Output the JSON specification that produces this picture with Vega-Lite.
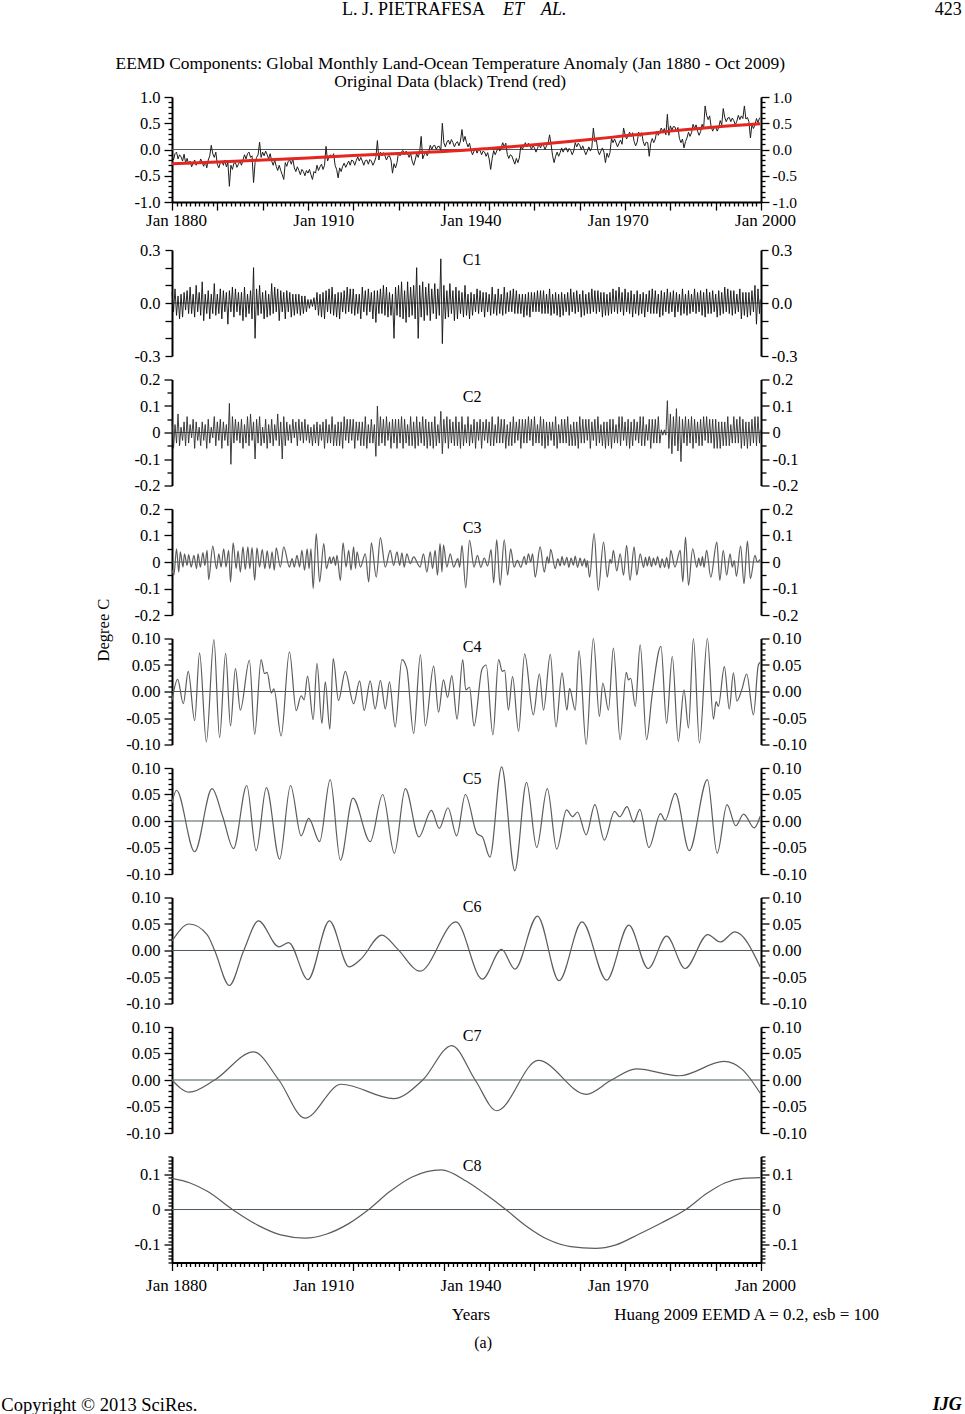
{
"$schema":"https://vega.github.io/schema/vega-lite/v6.json",
"autosize":"none",
"padding":{"left":172,"top":97,"right":793,"bottom":1317},
"background":"white",
"config":{"view":{"stroke":null},"axis":{"grid":false,"labelFont":"Liberation Serif","labelFontSize":16.5,"labelColor":"#000","domainColor":"#000","domainWidth":2,"tickColor":"#000","tickWidth":1.3,"labelOverlap":false},"text":{"font":"Liberation Serif","fontSize":16,"color":"#000"}},
"spacing":23.5,
"bounds":"flush",
"datasets":{
"hf":[
{"m":0,"o":-0.12,"a":0.06,"b":0.05},{"m":4,"o":-0.2,"a":-0.05,"b":-0.06},{"m":8,"o":-0.08,"a":0.08,"b":0.03},
{"m":12,"o":-0.05,"a":-0.07,"b":-0.04},{"m":16,"o":-0.18,"a":0.04,"b":0.07},{"m":20,"o":-0.1,"a":-0.09,"b":-0.05},
{"m":24,"o":-0.14,"a":0.05,"b":0.02},{"m":28,"o":-0.22,"a":-0.08,"b":-0.03},{"m":32,"o":-0.09,"a":0.06,"b":0.04},
{"m":36,"o":-0.25,"a":-0.04,"b":-0.05},{"m":40,"o":-0.17,"a":0.07,"b":0.06},{"m":44,"o":-0.28,"a":-0.06,"b":-0.04},
{"m":48,"o":-0.22,"a":0.09,"b":0.03},{"m":52,"o":-0.33,"a":-0.06,"b":-0.02},{"m":56,"o":-0.26,"a":0.05,"b":0.05},
{"m":60,"o":-0.2,"a":-0.08,"b":-0.06},{"m":64,"o":-0.3,"a":0.1,"b":0.04},{"m":68,"o":-0.24,"a":-0.05,"b":-0.03},
{"m":72,"o":-0.27,"a":0.06,"b":0.02},{"m":76,"o":-0.18,"a":-0.07,"b":-0.05},{"m":80,"o":-0.25,"a":0.12,"b":0.04},
{"m":84,"o":-0.32,"a":-0.1,"b":-0.03},{"m":88,"o":-0.22,"a":0.05,"b":0.03},{"m":92,"o":-0.35,"a":-0.06,"b":-0.06},
{"m":96,"o":-0.2,"a":0.07,"b":0.05},{"m":100,"o":-0.12,"a":-0.09,"b":-0.04},{"m":104,"o":0.08,"a":0.05,"b":0.02},
{"m":108,"o":-0.08,"a":-0.06,"b":-0.02},{"m":112,"o":-0.15,"a":0.11,"b":0.06},{"m":116,"o":-0.05,"a":-0.07,"b":-0.05},
{"m":120,"o":-0.28,"a":0.05,"b":0.04},{"m":124,"o":-0.35,"a":-0.06,"b":-0.03},{"m":128,"o":-0.25,"a":0.08,"b":0.05},
{"m":132,"o":-0.22,"a":-0.09,"b":-0.06},{"m":136,"o":-0.3,"a":0.07,"b":0.04},{"m":140,"o":-0.2,"a":-0.05,"b":-0.03},
{"m":144,"o":-0.33,"a":0.06,"b":0.03},{"m":148,"o":-0.25,"a":-0.12,"b":-0.05},{"m":152,"o":-0.7,"a":0.07,"b":0.11},
{"m":156,"o":-0.3,"a":-0.05,"b":-0.12},{"m":160,"o":-0.38,"a":0.09,"b":0.06},{"m":164,"o":-0.26,"a":-0.08,"b":-0.04},
{"m":168,"o":-0.25,"a":0.08,"b":0.05},{"m":172,"o":-0.34,"a":-0.05,"b":-0.03},{"m":176,"o":-0.28,"a":0.06,"b":0.04},
{"m":180,"o":-0.22,"a":-0.07,"b":-0.04},{"m":184,"o":-0.3,"a":0.06,"b":0.05},{"m":188,"o":-0.2,"a":-0.1,"b":-0.06},
{"m":192,"o":-0.1,"a":0.09,"b":0.03},{"m":196,"o":-0.18,"a":-0.08,"b":-0.04},{"m":200,"o":-0.08,"a":0.05,"b":0.06},
{"m":204,"o":-0.05,"a":-0.06,"b":-0.05},{"m":208,"o":-0.15,"a":0.07,"b":0.07},{"m":212,"o":-0.12,"a":-0.09,"b":-0.03},
{"m":216,"o":-0.63,"a":0.2,"b":0.04},{"m":220,"o":-0.25,"a":-0.2,"b":-0.1},{"m":224,"o":-0.15,"a":0.08,"b":0.05},
{"m":228,"o":-0.1,"a":-0.07,"b":-0.04},{"m":232,"o":0.14,"a":0.1,"b":0.06},{"m":236,"o":-0.15,"a":-0.06,"b":-0.05},
{"m":240,"o":-0.05,"a":0.06,"b":0.02},{"m":244,"o":-0.12,"a":-0.09,"b":-0.04},{"m":248,"o":-0.03,"a":0.07,"b":0.05},
{"m":252,"o":-0.1,"a":-0.08,"b":-0.06},{"m":256,"o":-0.18,"a":0.05,"b":0.03},{"m":260,"o":-0.08,"a":-0.07,"b":-0.04},
{"m":264,"o":-0.22,"a":0.11,"b":0.05},{"m":268,"o":-0.3,"a":-0.06,"b":-0.05},{"m":272,"o":-0.2,"a":0.09,"b":0.03},
{"m":276,"o":-0.32,"a":-0.05,"b":-0.03},{"m":280,"o":-0.4,"a":0.08,"b":0.07},{"m":284,"o":-0.3,"a":-0.1,"b":-0.05},
{"m":288,"o":-0.4,"a":0.07,"b":0.04},{"m":292,"o":-0.48,"a":-0.05,"b":-0.1},{"m":296,"o":-0.57,"a":0.06,"b":0.06},
{"m":300,"o":-0.25,"a":-0.09,"b":-0.05},{"m":304,"o":-0.32,"a":0.07,"b":0.04},{"m":308,"o":-0.22,"a":-0.05,"b":-0.03},
{"m":312,"o":-0.2,"a":0.06,"b":0.03},{"m":316,"o":-0.28,"a":-0.08,"b":-0.04},{"m":320,"o":-0.18,"a":0.05,"b":0.05},
{"m":324,"o":-0.35,"a":-0.07,"b":-0.02},{"m":328,"o":-0.42,"a":0.05,"b":0.04},{"m":332,"o":-0.33,"a":-0.06,"b":-0.05},
{"m":336,"o":-0.4,"a":0.05,"b":0.05},{"m":340,"o":-0.48,"a":-0.07,"b":-0.03},{"m":344,"o":-0.38,"a":0.04,"b":0.04},
{"m":348,"o":-0.42,"a":-0.06,"b":-0.04},{"m":352,"o":-0.5,"a":0.04,"b":0.05},{"m":356,"o":-0.4,"a":-0.05,"b":-0.03},
{"m":360,"o":-0.45,"a":0.02,"b":0.03},{"m":364,"o":-0.38,"a":-0.03,"b":-0.04},{"m":368,"o":-0.48,"a":0.02,"b":0.02},
{"m":372,"o":-0.57,"a":-0.02,"b":-0.05},{"m":376,"o":-0.42,"a":0.03,"b":0.03},{"m":380,"o":-0.45,"a":-0.04,"b":-0.04},
{"m":384,"o":-0.3,"a":0.06,"b":0.04},{"m":388,"o":-0.4,"a":-0.07,"b":-0.05},{"m":392,"o":-0.33,"a":0.05,"b":0.03},
{"m":396,"o":-0.28,"a":-0.08,"b":-0.03},{"m":400,"o":-0.38,"a":0.06,"b":0.04},{"m":404,"o":-0.3,"a":-0.09,"b":-0.06},
{"m":408,"o":0.06,"a":0.07,"b":0.05},{"m":412,"o":-0.22,"a":-0.05,"b":-0.04},{"m":416,"o":-0.14,"a":0.08,"b":0.03},
{"m":420,"o":-0.1,"a":-0.06,"b":-0.04},{"m":424,"o":-0.16,"a":0.09,"b":0.06},{"m":428,"o":-0.08,"a":-0.07,"b":-0.05},
{"m":432,"o":-0.3,"a":0.05,"b":0.03},{"m":436,"o":-0.38,"a":-0.08,"b":-0.05},{"m":440,"o":-0.54,"a":0.06,"b":0.04},
{"m":444,"o":-0.35,"a":-0.09,"b":-0.05},{"m":448,"o":-0.42,"a":0.06,"b":0.04},{"m":452,"o":-0.32,"a":-0.05,"b":-0.06},
{"m":456,"o":-0.26,"a":0.07,"b":0.06},{"m":460,"o":-0.34,"a":-0.06,"b":-0.03},{"m":464,"o":-0.28,"a":0.09,"b":0.05},
{"m":468,"o":-0.22,"a":-0.05,"b":-0.04},{"m":472,"o":-0.3,"a":0.08,"b":0.05},{"m":476,"o":-0.2,"a":-0.06,"b":-0.03},
{"m":480,"o":-0.22,"a":0.08,"b":0.05},{"m":484,"o":-0.3,"a":-0.07,"b":-0.06},{"m":488,"o":-0.21,"a":0.05,"b":0.04},
{"m":492,"o":-0.14,"a":-0.06,"b":-0.03},{"m":496,"o":-0.22,"a":0.05,"b":0.04},{"m":500,"o":-0.15,"a":-0.09,"b":-0.05},
{"m":504,"o":-0.22,"a":0.09,"b":0.04},{"m":508,"o":-0.3,"a":-0.05,"b":-0.05},{"m":512,"o":-0.21,"a":0.07,"b":0.06},
{"m":516,"o":-0.2,"a":-0.07,"b":-0.06},{"m":520,"o":-0.28,"a":0.08,"b":0.03},{"m":524,"o":-0.19,"a":-0.05,"b":-0.04},
{"m":528,"o":-0.22,"a":0.06,"b":0.05},{"m":532,"o":-0.3,"a":-0.09,"b":-0.04},{"m":536,"o":-0.24,"a":0.07,"b":0.03},
{"m":540,"o":-0.15,"a":-0.11,"b":-0.09},{"m":544,"o":0.17,"a":0.07,"b":0.1},{"m":548,"o":-0.2,"a":-0.06,"b":-0.05},
{"m":552,"o":-0.05,"a":0.08,"b":0.06},{"m":556,"o":-0.12,"a":-0.06,"b":-0.04},{"m":560,"o":-0.06,"a":0.1,"b":0.05},
{"m":564,"o":-0.12,"a":-0.07,"b":-0.05},{"m":568,"o":-0.2,"a":0.09,"b":0.06},{"m":572,"o":-0.13,"a":-0.08,"b":-0.03},
{"m":576,"o":-0.12,"a":0.06,"b":0.04},{"m":580,"o":-0.2,"a":-0.07,"b":-0.06},{"m":584,"o":-0.45,"a":0.05,"b":0.05},
{"m":588,"o":-0.27,"a":-0.2,"b":-0.04},{"m":592,"o":-0.35,"a":0.09,"b":0.05},{"m":596,"o":-0.25,"a":-0.07,"b":-0.06},
{"m":600,"o":-0.05,"a":0.1,"b":0.05},{"m":604,"o":-0.12,"a":-0.08,"b":-0.04},{"m":608,"o":-0.04,"a":0.12,"b":0.06},
{"m":612,"o":-0.02,"a":-0.09,"b":-0.06},{"m":616,"o":-0.1,"a":0.07,"b":0.05},{"m":620,"o":-0.03,"a":-0.11,"b":-0.04},
{"m":624,"o":-0.08,"a":0.12,"b":0.03},{"m":628,"o":-0.15,"a":-0.08,"b":-0.05},{"m":632,"o":-0.07,"a":0.09,"b":0.06},
{"m":636,"o":-0.22,"a":-0.07,"b":-0.05},{"m":640,"o":-0.3,"a":0.1,"b":0.04},{"m":644,"o":-0.2,"a":-0.09,"b":-0.06},
{"m":648,"o":-0.08,"a":0.2,"b":0.06},{"m":652,"o":-0.15,"a":-0.2,"b":-0.05},{"m":656,"o":-0.05,"a":0.1,"b":0.04},
{"m":660,"o":0.25,"a":-0.08,"b":-0.04},{"m":664,"o":-0.18,"a":0.12,"b":0.06},{"m":668,"o":-0.1,"a":-0.1,"b":-0.05},
{"m":672,"o":-0.05,"a":0.09,"b":0.05},{"m":676,"o":-0.12,"a":-0.07,"b":-0.06},{"m":680,"o":-0.04,"a":0.11,"b":0.04},
{"m":684,"o":0.08,"a":-0.1,"b":-0.05},{"m":688,"o":0.0,"a":0.08,"b":0.04},{"m":692,"o":0.07,"a":-0.06,"b":-0.06},
{"m":696,"o":0.08,"a":0.11,"b":0.06},{"m":700,"o":0.0,"a":-0.09,"b":-0.05},{"m":704,"o":0.06,"a":0.08,"b":0.03},
{"m":708,"o":0.06,"a":-0.07,"b":-0.04},{"m":712,"o":-0.02,"a":0.25,"b":0.08},{"m":716,"o":0.5,"a":-0.23,"b":-0.08},
{"m":720,"o":0.13,"a":0.1,"b":0.05},{"m":724,"o":0.05,"a":-0.09,"b":-0.04},{"m":728,"o":0.14,"a":0.07,"b":0.06},
{"m":732,"o":0.18,"a":-0.08,"b":-0.06},{"m":736,"o":0.1,"a":0.11,"b":0.05},{"m":740,"o":0.19,"a":-0.06,"b":-0.04},
{"m":744,"o":0.13,"a":0.07,"b":0.04},{"m":748,"o":0.05,"a":-0.1,"b":-0.05},{"m":752,"o":0.12,"a":0.09,"b":0.06},
{"m":756,"o":0.15,"a":-0.09,"b":-0.05},{"m":760,"o":0.07,"a":0.07,"b":0.04},{"m":764,"o":0.16,"a":-0.06,"b":-0.06},
{"m":768,"o":0.38,"a":0.06,"b":0.06},{"m":772,"o":0.15,"a":-0.08,"b":-0.05},{"m":776,"o":0.25,"a":0.1,"b":0.03},
{"m":780,"o":0.13,"a":-0.07,"b":-0.04},{"m":784,"o":0.05,"a":0.05,"b":0.06},{"m":788,"o":0.12,"a":-0.09,"b":-0.05},
{"m":792,"o":-0.02,"a":0.06,"b":0.03},{"m":796,"o":-0.1,"a":-0.07,"b":-0.04},{"m":800,"o":-0.03,"a":0.05,"b":0.05},
{"m":804,"o":0.01,"a":-0.05,"b":-0.06},{"m":808,"o":-0.07,"a":0.08,"b":0.04},{"m":812,"o":0.0,"a":-0.06,"b":-0.03},
{"m":816,"o":-0.02,"a":0.07,"b":0.05},{"m":820,"o":-0.1,"a":-0.05,"b":-0.06},{"m":824,"o":-0.03,"a":0.06,"b":0.04},
{"m":828,"o":-0.05,"a":-0.08,"b":-0.03},{"m":832,"o":-0.13,"a":0.06,"b":0.05},{"m":836,"o":-0.06,"a":-0.05,"b":-0.04},
{"m":840,"o":-0.18,"a":0.05,"b":0.04},{"m":844,"o":-0.38,"a":-0.07,"b":-0.05},{"m":848,"o":-0.17,"a":0.09,"b":0.06},
{"m":852,"o":-0.02,"a":-0.06,"b":-0.05},{"m":856,"o":-0.1,"a":0.05,"b":0.03},{"m":860,"o":-0.03,"a":-0.07,"b":-0.04},
{"m":864,"o":0.05,"a":0.08,"b":0.06},{"m":868,"o":-0.03,"a":-0.06,"b":-0.04},{"m":872,"o":0.04,"a":0.05,"b":0.05},
{"m":876,"o":0.13,"a":-0.07,"b":-0.04},{"m":880,"o":0.05,"a":0.09,"b":0.05},{"m":884,"o":0.12,"a":-0.06,"b":-0.06},
{"m":888,"o":-0.09,"a":0.06,"b":0.03},{"m":892,"o":-0.17,"a":-0.05,"b":-0.05},{"m":896,"o":-0.1,"a":0.07,"b":0.04},
{"m":900,"o":-0.12,"a":-0.05,"b":-0.05},{"m":904,"o":-0.2,"a":0.08,"b":0.06},{"m":908,"o":-0.28,"a":-0.06,"b":-0.04},
{"m":912,"o":-0.17,"a":0.07,"b":0.04},{"m":916,"o":-0.25,"a":-0.06,"b":-0.03},{"m":920,"o":-0.16,"a":0.05,"b":0.05},
{"m":924,"o":0.08,"a":-0.06,"b":-0.06},{"m":928,"o":0.0,"a":0.05,"b":0.05},{"m":932,"o":0.07,"a":-0.08,"b":-0.04},
{"m":936,"o":0.13,"a":0.05,"b":0.05},{"m":940,"o":0.05,"a":-0.07,"b":-0.04},{"m":944,"o":0.12,"a":0.06,"b":0.06},
{"m":948,"o":0.08,"a":-0.08,"b":-0.03},{"m":952,"o":0.0,"a":0.06,"b":0.05},{"m":956,"o":0.07,"a":-0.05,"b":-0.05},
{"m":960,"o":0.03,"a":0.06,"b":0.06},{"m":964,"o":-0.05,"a":-0.05,"b":-0.04},{"m":968,"o":0.02,"a":0.07,"b":0.03},
{"m":972,"o":0.11,"a":-0.05,"b":-0.04},{"m":976,"o":0.03,"a":0.07,"b":0.06},{"m":980,"o":0.1,"a":-0.06,"b":-0.05},
{"m":984,"o":0.08,"a":0.07,"b":0.05},{"m":988,"o":0.0,"a":-0.06,"b":-0.06},{"m":992,"o":0.07,"a":0.05,"b":0.04},
{"m":996,"o":0.11,"a":-0.06,"b":-0.05},{"m":1000,"o":0.28,"a":0.08,"b":0.04},{"m":1004,"o":0.1,"a":-0.07,"b":-0.03},
{"m":1008,"o":-0.12,"a":0.05,"b":0.04},{"m":1012,"o":-0.25,"a":-0.06,"b":-0.05},{"m":1016,"o":-0.13,"a":0.06,"b":0.06},
{"m":1020,"o":-0.05,"a":-0.07,"b":-0.06},{"m":1024,"o":-0.13,"a":0.05,"b":0.03},{"m":1028,"o":-0.06,"a":-0.08,"b":-0.04},
{"m":1032,"o":0.03,"a":0.06,"b":0.05},{"m":1036,"o":-0.05,"a":-0.07,"b":-0.04},{"m":1040,"o":0.02,"a":0.05,"b":0.05},
{"m":1044,"o":0.03,"a":-0.05,"b":-0.04},{"m":1048,"o":-0.05,"a":0.06,"b":0.06},{"m":1052,"o":0.02,"a":-0.07,"b":-0.05},
{"m":1056,"o":-0.02,"a":0.08,"b":0.03},{"m":1060,"o":-0.1,"a":-0.05,"b":-0.05},{"m":1064,"o":-0.03,"a":0.06,"b":0.04},
{"m":1068,"o":0.13,"a":-0.06,"b":-0.05},{"m":1072,"o":0.05,"a":0.07,"b":0.04},{"m":1076,"o":0.12,"a":-0.05,"b":-0.06},
{"m":1080,"o":0.08,"a":0.05,"b":0.06},{"m":1084,"o":0.0,"a":-0.08,"b":-0.04},{"m":1088,"o":0.07,"a":0.07,"b":0.05},
{"m":1092,"o":-0.02,"a":-0.07,"b":-0.04},{"m":1096,"o":-0.1,"a":0.05,"b":0.05},{"m":1100,"o":-0.03,"a":-0.06,"b":-0.03},
{"m":1104,"o":0.05,"a":0.06,"b":0.05},{"m":1108,"o":-0.03,"a":-0.06,"b":-0.06},{"m":1112,"o":0.04,"a":0.08,"b":0.04},
{"m":1116,"o":0.41,"a":-0.05,"b":-0.03},{"m":1120,"o":0.15,"a":0.07,"b":0.05},{"m":1124,"o":0.18,"a":-0.06,"b":-0.05},
{"m":1128,"o":-0.02,"a":0.07,"b":0.06},{"m":1132,"o":-0.1,"a":-0.05,"b":-0.04},{"m":1136,"o":-0.03,"a":0.06,"b":0.03},
{"m":1140,"o":0.03,"a":-0.08,"b":-0.05},{"m":1144,"o":-0.05,"a":0.06,"b":0.04},{"m":1148,"o":-0.25,"a":-0.07,"b":-0.06},
{"m":1152,"o":-0.07,"a":0.05,"b":0.04},{"m":1156,"o":-0.15,"a":-0.07,"b":-0.05},{"m":1160,"o":-0.06,"a":0.06,"b":0.05},
{"m":1164,"o":0.21,"a":-0.06,"b":-0.06},{"m":1168,"o":0.13,"a":0.08,"b":0.05},{"m":1172,"o":0.2,"a":-0.05,"b":-0.04},
{"m":1176,"o":0.13,"a":0.07,"b":0.03},{"m":1180,"o":0.05,"a":-0.06,"b":-0.04},{"m":1184,"o":0.12,"a":0.09,"b":0.06},
{"m":1188,"o":0.18,"a":-0.05,"b":-0.05},{"m":1192,"o":0.1,"a":0.06,"b":0.06},{"m":1196,"o":0.41,"a":-0.07,"b":-0.03},
{"m":1200,"o":0.28,"a":0.08,"b":0.04},{"m":1204,"o":0.2,"a":-0.05,"b":-0.05},{"m":1208,"o":0.27,"a":0.06,"b":0.05},
{"m":1212,"o":0.33,"a":-0.06,"b":-0.06},{"m":1216,"o":0.25,"a":0.07,"b":0.04},{"m":1220,"o":0.32,"a":-0.08,"b":-0.05},
{"m":1224,"o":0.15,"a":0.05,"b":0.05},{"m":1228,"o":0.07,"a":-0.06,"b":-0.03},{"m":1232,"o":0.14,"a":0.07,"b":0.04},
{"m":1236,"o":0.33,"a":-0.07,"b":-0.04},{"m":1240,"o":0.25,"a":0.05,"b":0.06},{"m":1244,"o":0.32,"a":-0.06,"b":-0.05},
{"m":1248,"o":0.15,"a":0.06,"b":0.06},{"m":1252,"o":0.07,"a":-0.08,"b":-0.05},{"m":1256,"o":0.14,"a":0.05,"b":0.03},
{"m":1260,"o":0.13,"a":-0.05,"b":-0.03},{"m":1264,"o":-0.13,"a":0.07,"b":0.05},{"m":1268,"o":0.12,"a":-0.06,"b":-0.06},
{"m":1272,"o":0.21,"a":0.08,"b":0.05},{"m":1276,"o":0.13,"a":-0.06,"b":-0.04},{"m":1280,"o":0.2,"a":0.07,"b":0.05},
{"m":1284,"o":0.35,"a":-0.06,"b":-0.04},{"m":1288,"o":0.27,"a":0.05,"b":0.06},{"m":1292,"o":0.34,"a":-0.08,"b":-0.04},
{"m":1296,"o":0.41,"a":0.07,"b":0.01},{"m":1300,"o":0.33,"a":-0.07,"b":-0.01},{"m":1304,"o":0.4,"a":0.06,"b":0.01},
{"m":1308,"o":0.28,"a":-0.05,"b":-0.01},{"m":1312,"o":0.67,"a":0.08,"b":0.12},{"m":1316,"o":0.27,"a":-0.06,"b":-0.06},
{"m":1320,"o":0.45,"a":0.06,"b":0.07},{"m":1324,"o":0.37,"a":-0.05,"b":-0.08},{"m":1328,"o":0.44,"a":0.07,"b":0.06},
{"m":1332,"o":0.43,"a":-0.08,"b":-0.05},{"m":1336,"o":0.35,"a":0.06,"b":0.09},{"m":1340,"o":0.42,"a":-0.05,"b":-0.07},
{"m":1344,"o":0.21,"a":0.05,"b":0.06},{"m":1348,"o":0.13,"a":-0.07,"b":-0.11},{"m":1352,"o":0.2,"a":0.08,"b":0.05},
{"m":1356,"o":0.03,"a":-0.06,"b":-0.04},{"m":1360,"o":0.15,"a":0.05,"b":0.06},{"m":1364,"o":0.22,"a":-0.07,"b":-0.05},
{"m":1368,"o":0.33,"a":0.07,"b":0.05},{"m":1372,"o":0.25,"a":-0.06,"b":-0.04},{"m":1376,"o":0.32,"a":0.05,"b":0.06},
{"m":1380,"o":0.48,"a":-0.05,"b":-0.06},{"m":1384,"o":0.4,"a":0.08,"b":0.05},{"m":1388,"o":0.47,"a":-0.06,"b":-0.04},
{"m":1392,"o":0.35,"a":0.06,"b":0.04},{"m":1396,"o":0.27,"a":-0.05,"b":-0.05},{"m":1400,"o":0.34,"a":0.07,"b":0.05},
{"m":1404,"o":0.48,"a":-0.07,"b":-0.05},{"m":1408,"o":0.4,"a":0.06,"b":0.06},{"m":1412,"o":0.83,"a":-0.08,"b":-0.03},
{"m":1416,"o":0.65,"a":0.08,"b":0.06},{"m":1420,"o":0.57,"a":-0.06,"b":-0.04},{"m":1424,"o":0.64,"a":0.06,"b":0.05},
{"m":1428,"o":0.43,"a":-0.06,"b":-0.04},{"m":1432,"o":0.35,"a":0.07,"b":0.05},{"m":1436,"o":0.42,"a":-0.05,"b":-0.06},
{"m":1440,"o":0.43,"a":0.05,"b":0.05},{"m":1444,"o":0.35,"a":-0.08,"b":-0.06},{"m":1448,"o":0.42,"a":0.07,"b":0.04},
{"m":1452,"o":0.55,"a":-0.07,"b":-0.06},{"m":1456,"o":0.47,"a":0.06,"b":0.04},{"m":1460,"o":0.78,"a":-0.06,"b":-0.05},
{"m":1464,"o":0.61,"a":0.09,"b":0.04},{"m":1468,"o":0.53,"a":-0.05,"b":-0.05},{"m":1472,"o":0.6,"a":0.08,"b":0.06},
{"m":1476,"o":0.61,"a":-0.06,"b":-0.05},{"m":1480,"o":0.53,"a":0.07,"b":0.03},{"m":1484,"o":0.6,"a":-0.07,"b":-0.04},
{"m":1488,"o":0.55,"a":0.07,"b":0.06},{"m":1492,"o":0.47,"a":-0.06,"b":-0.04},{"m":1496,"o":0.54,"a":0.05,"b":0.05},
{"m":1500,"o":0.65,"a":-0.05,"b":-0.04},{"m":1504,"o":0.57,"a":0.08,"b":0.06},{"m":1508,"o":0.64,"a":-0.09,"b":-0.06},
{"m":1512,"o":0.59,"a":0.06,"b":0.05},{"m":1516,"o":0.83,"a":-0.07,"b":-0.05},{"m":1520,"o":0.58,"a":0.06,"b":0.04},
{"m":1524,"o":0.61,"a":-0.08,"b":-0.06},{"m":1528,"o":0.53,"a":0.06,"b":0.04},{"m":1532,"o":0.22,"a":-0.07,"b":-0.05},
{"m":1536,"o":0.48,"a":0.07,"b":0.05},{"m":1540,"o":0.4,"a":-0.05,"b":-0.04},{"m":1544,"o":0.47,"a":0.1,"b":0.06},
{"m":1548,"o":0.59,"a":-0.12,"b":-0.05},{"m":1552,"o":0.51,"a":0.08,"b":0.06},{"m":1556,"o":0.6,"a":-0.06,"b":-0.04},
{"m":1558,"o":0.6,"a":0.02,"b":0.01}
],
"tr":[{"m":0,"v":-0.27},{"m":120,"v":-0.24},{"m":240,"v":-0.2},{"m":360,"v":-0.16},{"m":480,"v":-0.115},{"m":600,"v":-0.075},{"m":720,"v":-0.04},{"m":840,"v":0.02},{"m":960,"v":0.09},{"m":1080,"v":0.17},{"m":1200,"v":0.26},{"m":1320,"v":0.35},{"m":1440,"v":0.43},{"m":1558,"v":0.49}],
"c3":[{"m":0,"v":-0.03},{"m":5,"v":-0.05},{"m":12,"v":0.05},{"m":18,"v":-0.038},{"m":22,"v":0.038},{"m":29,"v":-0.019},{"m":33,"v":0.031},{"m":40,"v":-0.013},{"m":44,"v":0.028},{"m":51,"v":-0.019},{"m":58,"v":0.025},{"m":65,"v":-0.025},{"m":69,"v":0.031},{"m":75,"v":-0.019},{"m":82,"v":0.035},{"m":87,"v":-0.013},{"m":93,"v":0.044},{"m":97,"v":-0.067},{"m":108,"v":0.06},{"m":118,"v":-0.025},{"m":124,"v":0.031},{"m":130,"v":-0.019},{"m":137,"v":0.05},{"m":143,"v":-0.019},{"m":150,"v":0.044},{"m":155,"v":-0.075},{"m":162,"v":0.072},{"m":170,"v":-0.025},{"m":175,"v":0.042},{"m":181,"v":-0.038},{"m":188,"v":0.057},{"m":194,"v":-0.029},{"m":201,"v":0.057},{"m":206,"v":-0.025},{"m":212,"v":0.054},{"m":219,"v":-0.069},{"m":225,"v":0.053},{"m":232,"v":-0.019},{"m":239,"v":0.047},{"m":246,"v":-0.025},{"m":252,"v":0.042},{"m":259,"v":-0.025},{"m":265,"v":0.038},{"m":271,"v":-0.031},{"m":276,"v":0.053},{"m":287,"v":-0.019},{"m":296,"v":0.057},{"m":311,"v":-0.019},{"m":318,"v":0.013},{"m":324,"v":-0.019},{"m":331,"v":0.025},{"m":338,"v":-0.019},{"m":344,"v":0.044},{"m":351,"v":-0.031},{"m":358,"v":0.05},{"m":363,"v":-0.025},{"m":368,"v":0.05},{"m":374,"v":-0.1},{"m":382,"v":0.107},{"m":391,"v":-0.075},{"m":402,"v":0.069},{"m":409,"v":-0.025},{"m":418,"v":0.019},{"m":421,"v":-0.006},{"m":428,"v":0.019},{"m":433,"v":-0.013},{"m":437,"v":0.025},{"m":446,"v":-0.069},{"m":453,"v":0.072},{"m":461,"v":-0.019},{"m":468,"v":0.044},{"m":474,"v":-0.031},{"m":481,"v":0.057},{"m":486,"v":-0.025},{"m":490,"v":0.038},{"m":499,"v":-0.019},{"m":512,"v":0.031},{"m":521,"v":-0.075},{"m":528,"v":0.072},{"m":541,"v":-0.057},{"m":552,"v":0.092},{"m":565,"v":-0.019},{"m":578,"v":0.044},{"m":587,"v":-0.013},{"m":596,"v":0.038},{"m":603,"v":-0.013},{"m":609,"v":0.035},{"m":615,"v":-0.019},{"m":622,"v":0.031},{"m":631,"v":-0.006},{"m":640,"v":0.019},{"m":657,"v":-0.019},{"m":666,"v":0.031},{"m":675,"v":-0.038},{"m":684,"v":0.038},{"m":690,"v":-0.025},{"m":697,"v":0.044},{"m":703,"v":-0.05},{"m":710,"v":0.069},{"m":715,"v":-0.038},{"m":719,"v":0.065},{"m":728,"v":-0.019},{"m":737,"v":0.031},{"m":746,"v":-0.019},{"m":757,"v":0.013},{"m":762,"v":-0.02},{"m":768,"v":0.063},{"m":778,"v":-0.097},{"m":788,"v":0.082},{"m":800,"v":-0.019},{"m":809,"v":0.025},{"m":818,"v":-0.02},{"m":827,"v":0.015},{"m":836,"v":-0.015},{"m":845,"v":0.047},{"m":852,"v":-0.079},{"m":860,"v":0.084},{"m":869,"v":-0.088},{"m":880,"v":0.084},{"m":889,"v":-0.05},{"m":897,"v":0.05},{"m":906,"v":-0.019},{"m":915,"v":0.006},{"m":924,"v":-0.02},{"m":933,"v":0.02},{"m":938,"v":-0.01},{"m":944,"v":0.031},{"m":950,"v":0.0},{"m":955,"v":0.031},{"m":962,"v":-0.057},{"m":975,"v":0.057},{"m":986,"v":-0.038},{"m":994,"v":0.02},{"m":998,"v":-0.005},{"m":1003,"v":0.048},{"m":1015,"v":-0.025},{"m":1022,"v":0.012},{"m":1028,"v":-0.015},{"m":1033,"v":0.02},{"m":1039,"v":-0.012},{"m":1046,"v":0.018},{"m":1051,"v":-0.02},{"m":1057,"v":0.015},{"m":1063,"v":-0.012},{"m":1068,"v":0.022},{"m":1074,"v":-0.02},{"m":1081,"v":0.015},{"m":1086,"v":-0.015},{"m":1093,"v":0.012},{"m":1097,"v":-0.02},{"m":1100,"v":0.005},{"m":1106,"v":-0.057},{"m":1118,"v":0.107},{"m":1129,"v":-0.107},{"m":1143,"v":0.075},{"m":1153,"v":-0.057},{"m":1160,"v":0.01},{"m":1164,"v":-0.005},{"m":1169,"v":0.044},{"m":1178,"v":-0.034},{"m":1187,"v":0.031},{"m":1196,"v":-0.05},{"m":1204,"v":0.063},{"m":1213,"v":-0.069},{"m":1224,"v":0.057},{"m":1231,"v":-0.05},{"m":1240,"v":0.031},{"m":1249,"v":-0.02},{"m":1254,"v":0.018},{"m":1259,"v":-0.015},{"m":1264,"v":0.02},{"m":1270,"v":-0.018},{"m":1275,"v":0.015},{"m":1281,"v":-0.012},{"m":1286,"v":0.02},{"m":1293,"v":-0.022},{"m":1298,"v":0.012},{"m":1305,"v":-0.02},{"m":1310,"v":0.018},{"m":1316,"v":-0.025},{"m":1321,"v":0.044},{"m":1332,"v":-0.019},{"m":1346,"v":0.044},{"m":1353,"v":-0.075},{"m":1360,"v":0.094},{"m":1368,"v":-0.088},{"m":1379,"v":0.05},{"m":1390,"v":-0.02},{"m":1395,"v":0.015},{"m":1400,"v":-0.015},{"m":1405,"v":0.02},{"m":1409,"v":-0.02},{"m":1416,"v":0.044},{"m":1427,"v":-0.057},{"m":1443,"v":0.075},{"m":1451,"v":-0.069},{"m":1460,"v":0.044},{"m":1469,"v":-0.05},{"m":1478,"v":0.031},{"m":1484,"v":-0.019},{"m":1489,"v":0.005},{"m":1495,"v":-0.054},{"m":1506,"v":0.06},{"m":1515,"v":-0.082},{"m":1524,"v":0.079},{"m":1532,"v":-0.063},{"m":1544,"v":0.025},{"m":1550,"v":0.0},{"m":1558,"v":0.01}],
"c4":[{"m":0,"v":-0.017},{"m":15,"v":0.023},{"m":30,"v":-0.023},{"m":43,"v":0.038},{"m":60,"v":-0.055},{"m":73,"v":0.073},{"m":91,"v":-0.095},{"m":111,"v":0.098},{"m":126,"v":-0.087},{"m":142,"v":0.072},{"m":155,"v":-0.065},{"m":168,"v":0.043},{"m":181,"v":-0.035},{"m":205,"v":0.059},{"m":219,"v":-0.081},{"m":236,"v":0.06},{"m":245,"v":0.034},{"m":252,"v":0.036},{"m":263,"v":-0.003},{"m":270,"v":0.005},{"m":289,"v":-0.084},{"m":311,"v":0.075},{"m":329,"v":-0.036},{"m":342,"v":-0.008},{"m":350,"v":-0.016},{"m":359,"v":0.029},{"m":374,"v":-0.053},{"m":384,"v":0.053},{"m":397,"v":-0.06},{"m":406,"v":0.018},{"m":418,"v":-0.071},{"m":427,"v":0.062},{"m":441,"v":-0.017},{"m":459,"v":0.038},{"m":481,"v":-0.023},{"m":497,"v":0.02},{"m":509,"v":-0.036},{"m":525,"v":0.02},{"m":538,"v":-0.033},{"m":552,"v":0.021},{"m":565,"v":-0.033},{"m":576,"v":0.018},{"m":591,"v":-0.067},{"m":609,"v":0.06},{"m":622,"v":0.043},{"m":640,"v":-0.079},{"m":658,"v":0.069},{"m":671,"v":-0.065},{"m":693,"v":0.048},{"m":706,"v":-0.039},{"m":719,"v":0.022},{"m":730,"v":-0.011},{"m":741,"v":0.03},{"m":755,"v":-0.052},{"m":770,"v":0.06},{"m":778,"v":0.003},{"m":788,"v":0.008},{"m":800,"v":-0.065},{"m":821,"v":0.042},{"m":832,"v":0.05},{"m":850,"v":-0.082},{"m":865,"v":0.06},{"m":875,"v":0.038},{"m":881,"v":0.04},{"m":891,"v":-0.035},{"m":902,"v":0.028},{"m":918,"v":-0.075},{"m":934,"v":0.071},{"m":957,"v":-0.044},{"m":973,"v":0.033},{"m":984,"v":-0.035},{"m":1002,"v":0.07},{"m":1017,"v":-0.067},{"m":1033,"v":0.035},{"m":1046,"v":-0.035},{"m":1053,"v":0.006},{"m":1068,"v":-0.035},{"m":1078,"v":0.077},{"m":1097,"v":-0.1},{"m":1116,"v":0.1},{"m":1132,"v":-0.047},{"m":1141,"v":0.016},{"m":1156,"v":-0.035},{"m":1169,"v":0.082},{"m":1187,"v":-0.091},{"m":1203,"v":0.036},{"m":1209,"v":0.022},{"m":1215,"v":0.025},{"m":1227,"v":-0.028},{"m":1240,"v":0.088},{"m":1257,"v":-0.091},{"m":1271,"v":-0.01},{"m":1295,"v":0.085},{"m":1310,"v":-0.06},{"m":1325,"v":0.066},{"m":1341,"v":-0.094},{"m":1356,"v":0.003},{"m":1368,"v":-0.069},{"m":1381,"v":0.1},{"m":1397,"v":-0.097},{"m":1418,"v":0.1},{"m":1434,"v":-0.052},{"m":1441,"v":-0.019},{"m":1447,"v":-0.028},{"m":1463,"v":0.047},{"m":1476,"v":-0.033},{"m":1487,"v":0.035},{"m":1496,"v":-0.018},{"m":1509,"v":0.003},{"m":1522,"v":0.033},{"m":1540,"v":-0.044},{"m":1553,"v":0.05},{"m":1558,"v":0.055}],
"c5":[{"m":0,"v":0.034},{"m":12,"v":0.058},{"m":60,"v":-0.058},{"m":106,"v":0.061},{"m":134,"v":0.009},{"m":163,"v":-0.052},{"m":198,"v":0.067},{"m":223,"v":-0.056},{"m":250,"v":0.063},{"m":285,"v":-0.072},{"m":314,"v":0.067},{"m":342,"v":-0.028},{"m":362,"v":0.005},{"m":391,"v":-0.039},{"m":419,"v":0.078},{"m":446,"v":-0.074},{"m":479,"v":0.043},{"m":525,"v":-0.039},{"m":558,"v":0.05},{"m":589,"v":-0.061},{"m":618,"v":0.061},{"m":654,"v":-0.03},{"m":687,"v":0.02},{"m":708,"v":-0.014},{"m":731,"v":0.025},{"m":754,"v":-0.028},{"m":777,"v":0.05},{"m":808,"v":-0.024},{"m":822,"v":-0.03},{"m":842,"v":-0.068},{"m":873,"v":0.102},{"m":908,"v":-0.094},{"m":939,"v":0.073},{"m":966,"v":-0.05},{"m":994,"v":0.061},{"m":1019,"v":-0.053},{"m":1045,"v":0.021},{"m":1061,"v":0.008},{"m":1074,"v":0.017},{"m":1097,"v":-0.026},{"m":1120,"v":0.031},{"m":1145,"v":-0.036},{"m":1172,"v":0.018},{"m":1186,"v":0.008},{"m":1205,"v":0.027},{"m":1223,"v":-0.002},{"m":1239,"v":0.022},{"m":1263,"v":-0.05},{"m":1294,"v":0.014},{"m":1306,"v":0.001},{"m":1333,"v":0.052},{"m":1370,"v":-0.056},{"m":1418,"v":0.078},{"m":1444,"v":-0.061},{"m":1470,"v":0.031},{"m":1493,"v":-0.009},{"m":1514,"v":0.013},{"m":1542,"v":-0.013},{"m":1558,"v":0.009}],
"c6":[{"m":0,"v":0.018},{"m":46,"v":0.05},{"m":93,"v":0.03},{"m":113,"v":0.0},{"m":152,"v":-0.066},{"m":190,"v":0.0},{"m":229,"v":0.056},{"m":283,"v":0.007},{"m":309,"v":0.015},{"m":360,"v":-0.055},{"m":417,"v":0.056},{"m":469,"v":-0.031},{"m":499,"v":-0.017},{"m":556,"v":0.029},{"m":597,"v":0.003},{"m":657,"v":-0.039},{"m":752,"v":0.054},{"m":822,"v":-0.054},{"m":873,"v":0.002},{"m":908,"v":-0.035},{"m":968,"v":0.065},{"m":1025,"v":-0.057},{"m":1086,"v":0.054},{"m":1151,"v":-0.056},{"m":1210,"v":0.048},{"m":1261,"v":-0.034},{"m":1310,"v":0.027},{"m":1359,"v":-0.034},{"m":1419,"v":0.03},{"m":1452,"v":0.016},{"m":1491,"v":0.035},{"m":1558,"v":-0.031}],
"c7":[{"m":0,"v":0.0},{"m":46,"v":-0.023},{"m":113,"v":0.0},{"m":216,"v":0.053},{"m":283,"v":0.0},{"m":352,"v":-0.072},{"m":448,"v":-0.008},{"m":587,"v":-0.035},{"m":664,"v":0.0},{"m":741,"v":0.065},{"m":803,"v":0.0},{"m":860,"v":-0.058},{"m":970,"v":0.037},{"m":1097,"v":-0.027},{"m":1164,"v":0.0},{"m":1230,"v":0.021},{"m":1344,"v":0.008},{"m":1462,"v":0.035},{"m":1510,"v":0.02},{"m":1558,"v":-0.025}],
"c8":[{"m":0,"v":0.088},{"m":48,"v":0.075},{"m":96,"v":0.05},{"m":160,"v":0},{"m":228,"v":-0.045},{"m":288,"v":-0.072},{"m":352,"v":-0.081},{"m":408,"v":-0.07},{"m":468,"v":-0.04},{"m":521,"v":0},{"m":576,"v":0.05},{"m":636,"v":0.092},{"m":713,"v":0.112},{"m":780,"v":0.08},{"m":828,"v":0.045},{"m":884,"v":0},{"m":936,"v":-0.045},{"m":996,"v":-0.085},{"m":1056,"v":-0.105},{"m":1121,"v":-0.11},{"m":1176,"v":-0.1},{"m":1236,"v":-0.07},{"m":1296,"v":-0.038},{"m":1361,"v":0},{"m":1416,"v":0.045},{"m":1464,"v":0.075},{"m":1512,"v":0.088},{"m":1558,"v":0.09}]
},
"vconcat":[
{"width":589,"height":105,"resolve":{"axis":{"x":"independent","y":"independent"}},"layer":[
 {"data":{"values":[{}]},"mark":{"type":"rule","color":"#555","strokeWidth":1},"encoding":{"y":{"datum":0,"type":"quantitative","scale":{"domain":[-1,1],"nice":false},"axis":null}}},
 {"data":{"name":"hf"},"mark":{"type":"line","color":"#1e1e1e","strokeWidth":1},"encoding":{
  "x":{"field":"m","type":"quantitative","scale":{"domain":[0,1560],"nice":false,"zero":false},"axis":{"orient":"bottom","title":null,"labels":false,"values":[0,12,24,36,48,60,72,84,96,108,120,132,144,156,168,180,192,204,216,228,240,252,264,276,288,300,312,324,336,348,360,372,384,396,408,420,432,444,456,468,480,492,504,516,528,540,552,564,576,588,600,612,624,636,648,660,672,684,696,708,720,732,744,756,768,780,792,804,816,828,840,852,864,876,888,900,912,924,936,948,960,972,984,996,1008,1020,1032,1044,1056,1068,1080,1092,1104,1116,1128,1140,1152,1164,1176,1188,1200,1212,1224,1236,1248,1260,1272,1284,1296,1308,1320,1332,1344,1356,1368,1380,1392,1404,1416,1428,1440,1452,1464,1476,1488,1500,1512,1524,1536,1548,1560],"tickSize":{"condition":{"test":"datum.value % 120 == 0","value":8},"value":4}}},
  "y":{"field":"o","type":"quantitative","scale":{"domain":[-1,1],"nice":false},"axis":{"orient":"left","title":null,"values":[-1,-0.9,-0.8,-0.7,-0.6,-0.5,-0.4,-0.3,-0.2,-0.1,0,0.1,0.2,0.3,0.4,0.5,0.6,0.7,0.8,0.9,1],"tickSize":{"condition":{"test":"abs(datum.value*2-round(datum.value*2))<0.01","value":8},"value":4},"labelPadding":4,"labelExpr":"abs(datum.value*2-round(datum.value*2))<0.01?(datum.value<-0.01?'-':'')+format(abs(datum.value),'.1f'):''"}}}},
 {"data":{"name":"tr"},"mark":{"type":"line","color":"#e3261f","strokeWidth":3,"interpolate":"monotone"},"encoding":{
  "x":{"field":"m","type":"quantitative","scale":{"domain":[0,1560],"nice":false,"zero":false},"axis":{"orient":"bottom","title":null,"values":[0,390,780,1170,1560],"ticks":false,"tickSize":0,"domain":false,"labelPadding":10,"labelOffset":4,"labelFontSize":17,"labelFlush":false,"labelExpr":"datum.value<100?'Jan 1880':datum.value<500?'Jan 1910':datum.value<900?'Jan 1940':datum.value<1300?'Jan 1970':'Jan 2000'"}},
  "y":{"field":"v","type":"quantitative","scale":{"domain":[-1,1],"nice":false},"axis":{"orient":"right","title":null,"values":[-1,-0.9,-0.8,-0.7,-0.6,-0.5,-0.4,-0.3,-0.2,-0.1,0,0.1,0.2,0.3,0.4,0.5,0.6,0.7,0.8,0.9,1],"tickSize":{"condition":{"test":"abs(datum.value*2-round(datum.value*2))<0.01","value":8},"value":4},"labelPadding":3,"labelFontSize":15.5,"labelExpr":"abs(datum.value*2-round(datum.value*2))<0.01?(datum.value<-0.01?'-':'')+format(abs(datum.value),'.1f'):''"}}}},
 {"data":{"values":[{}]},"mark":{"type":"text","text":"L. J. PIETRAFESA","align":"left","fontSize":18},"encoding":{"x":{"datum":450,"type":"quantitative","scale":{"domain":[0,1560],"nice":false,"zero":false},"axis":null},"y":{"datum":2.657,"type":"quantitative","scale":{"domain":[-1,1],"nice":false},"axis":null}}},
 {"data":{"values":[{}]},"mark":{"type":"text","text":"ET","align":"left","fontSize":18,"fontStyle":"italic"},"encoding":{"x":{"datum":877,"type":"quantitative","scale":{"domain":[0,1560],"nice":false,"zero":false},"axis":null},"y":{"datum":2.657,"type":"quantitative","scale":{"domain":[-1,1],"nice":false},"axis":null}}},
 {"data":{"values":[{}]},"mark":{"type":"text","text":"AL.","align":"left","fontSize":18,"fontStyle":"italic"},"encoding":{"x":{"datum":977,"type":"quantitative","scale":{"domain":[0,1560],"nice":false,"zero":false},"axis":null},"y":{"datum":2.657,"type":"quantitative","scale":{"domain":[-1,1],"nice":false},"axis":null}}},
 {"data":{"values":[{}]},"mark":{"type":"text","text":"423","align":"right","fontSize":18},"encoding":{"x":{"datum":2092,"type":"quantitative","scale":{"domain":[0,1560],"nice":false,"zero":false},"axis":null},"y":{"datum":2.657,"type":"quantitative","scale":{"domain":[-1,1],"nice":false},"axis":null}}},
 {"data":{"values":[{}]},"mark":{"type":"text","text":"EEMD Components: Global Monthly Land-Ocean Temperature Anomaly (Jan 1880 - Oct 2009)","fontSize":17.4},"encoding":{"x":{"datum":737,"type":"quantitative","scale":{"domain":[0,1560],"nice":false,"zero":false},"axis":null},"y":{"datum":1.629,"type":"quantitative","scale":{"domain":[-1,1],"nice":false},"axis":null}}},
 {"data":{"values":[{}]},"mark":{"type":"text","text":"Original Data (black) Trend (red)","fontSize":17.4},"encoding":{"x":{"datum":737,"type":"quantitative","scale":{"domain":[0,1560],"nice":false,"zero":false},"axis":null},"y":{"datum":1.286,"type":"quantitative","scale":{"domain":[-1,1],"nice":false},"axis":null}}}
]},
{"width":589,"height":1,"data":{"values":[{}]},"mark":{"type":"point","opacity":0}},
{"width":589,"height":106,"resolve":{"axis":{"y":"independent"}},"layer":[
 {"data":{"values":[{}]},"mark":{"type":"rule","color":"#4d5a63","strokeWidth":1.2},"encoding":{"y":{"datum":0,"type":"quantitative","scale":{"domain":[-0.3,0.3],"nice":false},"axis":null}}},
 {"data":{"name":"hf"},"mark":{"type":"line","color":"#111","strokeWidth":0.9},"encoding":{"x":{"field":"m","type":"quantitative","scale":{"domain":[0,1560],"nice":false,"zero":false},"axis":null},"y":{"field":"a","type":"quantitative","scale":{"domain":[-0.3,0.3],"nice":false},"axis":{"orient":"left","title":null,"values":[-0.3,-0.2,-0.1,0,0.1,0.2,0.3],"tickSize":7,"labelPadding":5,"labelExpr":"abs(abs(datum.value)-0.3)<0.01||abs(datum.value)<0.01?(datum.value<-0.01?'-':'')+format(abs(datum.value),'.1f'):''"}}}},
 {"data":{"name":"hf"},"mark":{"type":"line","opacity":0},"encoding":{"x":{"field":"m","type":"quantitative","scale":{"domain":[0,1560],"nice":false,"zero":false},"axis":null},"y":{"field":"a","type":"quantitative","scale":{"domain":[-0.3,0.3],"nice":false},"axis":{"orient":"right","title":null,"values":[-0.3,-0.2,-0.1,0,0.1,0.2,0.3],"tickSize":7,"labelPadding":3,"labelExpr":"abs(abs(datum.value)-0.3)<0.01||abs(datum.value)<0.01?(datum.value<-0.01?'-':'')+format(abs(datum.value),'.1f'):''"}}}},
 {"data":{"values":[{}]},"mark":{"type":"text","text":"C1"},"encoding":{"x":{"datum":795,"type":"quantitative","scale":{"domain":[0,1560],"nice":false,"zero":false},"axis":null},"y":{"datum":0.243,"type":"quantitative","scale":{"domain":[-0.3,0.3],"nice":false},"axis":null}}}
]},
{"width":589,"height":106,"resolve":{"axis":{"y":"independent"}},"layer":[
 {"data":{"values":[{}]},"mark":{"type":"rule","color":"#4d5a63","strokeWidth":1.2},"encoding":{"y":{"datum":0,"type":"quantitative","scale":{"domain":[-0.2,0.2],"nice":false},"axis":null}}},
 {"data":{"name":"hf"},"mark":{"type":"line","color":"#2e2e2e","strokeWidth":0.9},"encoding":{"x":{"field":"m","type":"quantitative","scale":{"domain":[0,1560],"nice":false,"zero":false},"axis":null},"y":{"field":"b","type":"quantitative","scale":{"domain":[-0.2,0.2],"nice":false},"axis":{"orient":"left","title":null,"values":[-0.2,-0.15,-0.1,-0.05,0,0.05,0.1,0.15,0.2],"tickSize":{"condition":{"test":"abs(datum.value*10-round(datum.value*10))<0.01","value":8},"value":5},"labelPadding":4,"labelExpr":"abs(datum.value*10-round(datum.value*10))<0.01?(abs(datum.value)<0.01?'0':(datum.value<0?'-':'')+format(abs(datum.value),'.1f')):''"}}}},
 {"data":{"name":"hf"},"mark":{"type":"line","opacity":0},"encoding":{"x":{"field":"m","type":"quantitative","scale":{"domain":[0,1560],"nice":false,"zero":false},"axis":null},"y":{"field":"b","type":"quantitative","scale":{"domain":[-0.2,0.2],"nice":false},"axis":{"orient":"right","title":null,"values":[-0.2,-0.15,-0.1,-0.05,0,0.05,0.1,0.15,0.2],"tickSize":{"condition":{"test":"abs(datum.value*10-round(datum.value*10))<0.01","value":8},"value":5},"labelPadding":3,"labelExpr":"abs(datum.value*10-round(datum.value*10))<0.01?(abs(datum.value)<0.01?'0':(datum.value<0?'-':'')+format(abs(datum.value),'.1f')):''"}}}},
 {"data":{"values":[{}]},"mark":{"type":"text","text":"C2"},"encoding":{"x":{"datum":795,"type":"quantitative","scale":{"domain":[0,1560],"nice":false,"zero":false},"axis":null},"y":{"datum":0.134,"type":"quantitative","scale":{"domain":[-0.2,0.2],"nice":false},"axis":null}}}
]},
{"width":589,"height":106,"resolve":{"axis":{"y":"independent"}},"layer":[
 {"data":{"values":[{}]},"mark":{"type":"rule","color":"#4d5a63","strokeWidth":1.2},"encoding":{"y":{"datum":0,"type":"quantitative","scale":{"domain":[-0.2,0.2],"nice":false},"axis":null}}},
 {"data":{"name":"c3"},"mark":{"type":"line","color":"#5c5c5c","strokeWidth":1.2,"interpolate":"monotone"},"encoding":{"x":{"field":"m","type":"quantitative","scale":{"domain":[0,1560],"nice":false,"zero":false},"axis":null},"y":{"field":"v","type":"quantitative","scale":{"domain":[-0.2,0.2],"nice":false},"axis":{"orient":"left","title":null,"values":[-0.2,-0.15,-0.1,-0.05,0,0.05,0.1,0.15,0.2],"tickSize":{"condition":{"test":"abs(datum.value*10-round(datum.value*10))<0.01","value":8},"value":5},"labelPadding":4,"labelExpr":"abs(datum.value*10-round(datum.value*10))<0.01?(abs(datum.value)<0.01?'0':(datum.value<0?'-':'')+format(abs(datum.value),'.1f')):''"}}}},
 {"data":{"name":"c3"},"mark":{"type":"line","opacity":0},"encoding":{"x":{"field":"m","type":"quantitative","scale":{"domain":[0,1560],"nice":false,"zero":false},"axis":null},"y":{"field":"v","type":"quantitative","scale":{"domain":[-0.2,0.2],"nice":false},"axis":{"orient":"right","title":null,"values":[-0.2,-0.15,-0.1,-0.05,0,0.05,0.1,0.15,0.2],"tickSize":{"condition":{"test":"abs(datum.value*10-round(datum.value*10))<0.01","value":8},"value":5},"labelPadding":3,"labelExpr":"abs(datum.value*10-round(datum.value*10))<0.01?(abs(datum.value)<0.01?'0':(datum.value<0?'-':'')+format(abs(datum.value),'.1f')):''"}}}},
 {"data":{"values":[{}]},"mark":{"type":"text","text":"C3"},"encoding":{"x":{"datum":795,"type":"quantitative","scale":{"domain":[0,1560],"nice":false,"zero":false},"axis":null},"y":{"datum":0.128,"type":"quantitative","scale":{"domain":[-0.2,0.2],"nice":false},"axis":null}}}
]},
{"width":589,"height":106,"resolve":{"axis":{"y":"independent"}},"layer":[
 {"data":{"values":[{}]},"mark":{"type":"rule","color":"#4d5a63","strokeWidth":1.2},"encoding":{"y":{"datum":0,"type":"quantitative","scale":{"domain":[-0.1,0.1],"nice":false},"axis":null}}},
 {"data":{"name":"c4"},"mark":{"type":"line","color":"#5c5c5c","strokeWidth":1.2,"interpolate":"monotone"},"encoding":{"x":{"field":"m","type":"quantitative","scale":{"domain":[0,1560],"nice":false,"zero":false},"axis":null},"y":{"field":"v","type":"quantitative","scale":{"domain":[-0.1,0.1],"nice":false},"axis":{"orient":"left","title":null,"values":[-0.1,-0.09,-0.08,-0.07,-0.06,-0.05,-0.04,-0.03,-0.02,-0.01,0,0.01,0.02,0.03,0.04,0.05,0.06,0.07,0.08,0.09,0.1],"tickSize":{"condition":{"test":"abs(datum.value*20-round(datum.value*20))<0.01","value":8},"value":4},"labelPadding":4,"labelExpr":"abs(datum.value*20-round(datum.value*20))<0.01?(datum.value<-0.001?'-':'')+format(abs(datum.value),'.2f'):''"}}}},
 {"data":{"name":"c4"},"mark":{"type":"line","opacity":0},"encoding":{"x":{"field":"m","type":"quantitative","scale":{"domain":[0,1560],"nice":false,"zero":false},"axis":null},"y":{"field":"v","type":"quantitative","scale":{"domain":[-0.1,0.1],"nice":false},"axis":{"orient":"right","title":null,"values":[-0.1,-0.09,-0.08,-0.07,-0.06,-0.05,-0.04,-0.03,-0.02,-0.01,0,0.01,0.02,0.03,0.04,0.05,0.06,0.07,0.08,0.09,0.1],"tickSize":{"condition":{"test":"abs(datum.value*20-round(datum.value*20))<0.01","value":8},"value":4},"labelPadding":3,"labelExpr":"abs(datum.value*20-round(datum.value*20))<0.01?(datum.value<-0.001?'-':'')+format(abs(datum.value),'.2f'):''"}}}},
 {"data":{"values":[{}]},"mark":{"type":"text","text":"C4"},"encoding":{"x":{"datum":795,"type":"quantitative","scale":{"domain":[0,1560],"nice":false,"zero":false},"axis":null},"y":{"datum":0.084,"type":"quantitative","scale":{"domain":[-0.1,0.1],"nice":false},"axis":null}}},
 {"data":{"values":[{}]},"mark":{"type":"text","text":"Degree C","angle":270,"fontSize":16.5},"encoding":{"x":{"datum":-180,"type":"quantitative","scale":{"domain":[0,1560],"nice":false,"zero":false},"axis":null},"y":{"datum":0.116,"type":"quantitative","scale":{"domain":[-0.1,0.1],"nice":false},"axis":null}}}
]},
{"width":589,"height":106,"resolve":{"axis":{"y":"independent"}},"layer":[
 {"data":{"values":[{}]},"mark":{"type":"rule","color":"#4d5a63","strokeWidth":1.2},"encoding":{"y":{"datum":0,"type":"quantitative","scale":{"domain":[-0.1,0.1],"nice":false},"axis":null}}},
 {"data":{"name":"c5"},"mark":{"type":"line","color":"#5c5c5c","strokeWidth":1.2,"interpolate":"monotone"},"encoding":{"x":{"field":"m","type":"quantitative","scale":{"domain":[0,1560],"nice":false,"zero":false},"axis":null},"y":{"field":"v","type":"quantitative","scale":{"domain":[-0.1,0.1],"nice":false},"axis":{"orient":"left","title":null,"values":[-0.1,-0.09,-0.08,-0.07,-0.06,-0.05,-0.04,-0.03,-0.02,-0.01,0,0.01,0.02,0.03,0.04,0.05,0.06,0.07,0.08,0.09,0.1],"tickSize":{"condition":{"test":"abs(datum.value*20-round(datum.value*20))<0.01","value":8},"value":4},"labelPadding":4,"labelExpr":"abs(datum.value*20-round(datum.value*20))<0.01?(datum.value<-0.001?'-':'')+format(abs(datum.value),'.2f'):''"}}}},
 {"data":{"name":"c5"},"mark":{"type":"line","opacity":0},"encoding":{"x":{"field":"m","type":"quantitative","scale":{"domain":[0,1560],"nice":false,"zero":false},"axis":null},"y":{"field":"v","type":"quantitative","scale":{"domain":[-0.1,0.1],"nice":false},"axis":{"orient":"right","title":null,"values":[-0.1,-0.09,-0.08,-0.07,-0.06,-0.05,-0.04,-0.03,-0.02,-0.01,0,0.01,0.02,0.03,0.04,0.05,0.06,0.07,0.08,0.09,0.1],"tickSize":{"condition":{"test":"abs(datum.value*20-round(datum.value*20))<0.01","value":8},"value":4},"labelPadding":3,"labelExpr":"abs(datum.value*20-round(datum.value*20))<0.01?(datum.value<-0.001?'-':'')+format(abs(datum.value),'.2f'):''"}}}},
 {"data":{"values":[{}]},"mark":{"type":"text","text":"C5"},"encoding":{"x":{"datum":795,"type":"quantitative","scale":{"domain":[0,1560],"nice":false,"zero":false},"axis":null},"y":{"datum":0.079,"type":"quantitative","scale":{"domain":[-0.1,0.1],"nice":false},"axis":null}}}
]},
{"width":589,"height":106,"resolve":{"axis":{"y":"independent"}},"layer":[
 {"data":{"values":[{}]},"mark":{"type":"rule","color":"#4d5a63","strokeWidth":1.2},"encoding":{"y":{"datum":0,"type":"quantitative","scale":{"domain":[-0.1,0.1],"nice":false},"axis":null}}},
 {"data":{"name":"c6"},"mark":{"type":"line","color":"#5c5c5c","strokeWidth":1.2,"interpolate":"monotone"},"encoding":{"x":{"field":"m","type":"quantitative","scale":{"domain":[0,1560],"nice":false,"zero":false},"axis":null},"y":{"field":"v","type":"quantitative","scale":{"domain":[-0.1,0.1],"nice":false},"axis":{"orient":"left","title":null,"values":[-0.1,-0.09,-0.08,-0.07,-0.06,-0.05,-0.04,-0.03,-0.02,-0.01,0,0.01,0.02,0.03,0.04,0.05,0.06,0.07,0.08,0.09,0.1],"tickSize":{"condition":{"test":"abs(datum.value*20-round(datum.value*20))<0.01","value":8},"value":4},"labelPadding":4,"labelExpr":"abs(datum.value*20-round(datum.value*20))<0.01?(datum.value<-0.001?'-':'')+format(abs(datum.value),'.2f'):''"}}}},
 {"data":{"name":"c6"},"mark":{"type":"line","opacity":0},"encoding":{"x":{"field":"m","type":"quantitative","scale":{"domain":[0,1560],"nice":false,"zero":false},"axis":null},"y":{"field":"v","type":"quantitative","scale":{"domain":[-0.1,0.1],"nice":false},"axis":{"orient":"right","title":null,"values":[-0.1,-0.09,-0.08,-0.07,-0.06,-0.05,-0.04,-0.03,-0.02,-0.01,0,0.01,0.02,0.03,0.04,0.05,0.06,0.07,0.08,0.09,0.1],"tickSize":{"condition":{"test":"abs(datum.value*20-round(datum.value*20))<0.01","value":8},"value":4},"labelPadding":3,"labelExpr":"abs(datum.value*20-round(datum.value*20))<0.01?(datum.value<-0.001?'-':'')+format(abs(datum.value),'.2f'):''"}}}},
 {"data":{"values":[{}]},"mark":{"type":"text","text":"C6"},"encoding":{"x":{"datum":795,"type":"quantitative","scale":{"domain":[0,1560],"nice":false,"zero":false},"axis":null},"y":{"datum":0.082,"type":"quantitative","scale":{"domain":[-0.1,0.1],"nice":false},"axis":null}}}
]},
{"width":589,"height":106,"resolve":{"axis":{"y":"independent"}},"layer":[
 {"data":{"values":[{}]},"mark":{"type":"rule","color":"#4d5a63","strokeWidth":1.2},"encoding":{"y":{"datum":0,"type":"quantitative","scale":{"domain":[-0.1,0.1],"nice":false},"axis":null}}},
 {"data":{"name":"c7"},"mark":{"type":"line","color":"#5c5c5c","strokeWidth":1.2,"interpolate":"monotone"},"encoding":{"x":{"field":"m","type":"quantitative","scale":{"domain":[0,1560],"nice":false,"zero":false},"axis":null},"y":{"field":"v","type":"quantitative","scale":{"domain":[-0.1,0.1],"nice":false},"axis":{"orient":"left","title":null,"values":[-0.1,-0.09,-0.08,-0.07,-0.06,-0.05,-0.04,-0.03,-0.02,-0.01,0,0.01,0.02,0.03,0.04,0.05,0.06,0.07,0.08,0.09,0.1],"tickSize":{"condition":{"test":"abs(datum.value*20-round(datum.value*20))<0.01","value":8},"value":4},"labelPadding":4,"labelExpr":"abs(datum.value*20-round(datum.value*20))<0.01?(datum.value<-0.001?'-':'')+format(abs(datum.value),'.2f'):''"}}}},
 {"data":{"name":"c7"},"mark":{"type":"line","opacity":0},"encoding":{"x":{"field":"m","type":"quantitative","scale":{"domain":[0,1560],"nice":false,"zero":false},"axis":null},"y":{"field":"v","type":"quantitative","scale":{"domain":[-0.1,0.1],"nice":false},"axis":{"orient":"right","title":null,"values":[-0.1,-0.09,-0.08,-0.07,-0.06,-0.05,-0.04,-0.03,-0.02,-0.01,0,0.01,0.02,0.03,0.04,0.05,0.06,0.07,0.08,0.09,0.1],"tickSize":{"condition":{"test":"abs(datum.value*20-round(datum.value*20))<0.01","value":8},"value":4},"labelPadding":3,"labelExpr":"abs(datum.value*20-round(datum.value*20))<0.01?(datum.value<-0.001?'-':'')+format(abs(datum.value),'.2f'):''"}}}},
 {"data":{"values":[{}]},"mark":{"type":"text","text":"C7"},"encoding":{"x":{"datum":795,"type":"quantitative","scale":{"domain":[0,1560],"nice":false,"zero":false},"axis":null},"y":{"datum":0.083,"type":"quantitative","scale":{"domain":[-0.1,0.1],"nice":false},"axis":null}}}
]},
{"width":589,"height":106,"resolve":{"axis":{"x":"independent","y":"independent"}},"layer":[
 {"data":{"values":[{}]},"mark":{"type":"rule","color":"#4d5a63","strokeWidth":1.2},"encoding":{"y":{"datum":0,"type":"quantitative","scale":{"domain":[-0.15,0.15],"nice":false},"axis":null}}},
 {"data":{"name":"c8"},"mark":{"type":"line","color":"#5c5c5c","strokeWidth":1.2,"interpolate":"monotone"},"encoding":{
  "x":{"field":"m","type":"quantitative","scale":{"domain":[0,1560],"nice":false,"zero":false},"axis":{"orient":"bottom","title":null,"labels":false,"values":[0,12,24,36,48,60,72,84,96,108,120,132,144,156,168,180,192,204,216,228,240,252,264,276,288,300,312,324,336,348,360,372,384,396,408,420,432,444,456,468,480,492,504,516,528,540,552,564,576,588,600,612,624,636,648,660,672,684,696,708,720,732,744,756,768,780,792,804,816,828,840,852,864,876,888,900,912,924,936,948,960,972,984,996,1008,1020,1032,1044,1056,1068,1080,1092,1104,1116,1128,1140,1152,1164,1176,1188,1200,1212,1224,1236,1248,1260,1272,1284,1296,1308,1320,1332,1344,1356,1368,1380,1392,1404,1416,1428,1440,1452,1464,1476,1488,1500,1512,1524,1536,1548,1560],"tickSize":{"condition":{"test":"datum.value % 120 == 0","value":8},"value":4}}},
  "y":{"field":"v","type":"quantitative","scale":{"domain":[-0.15,0.15],"nice":false},"axis":{"orient":"left","title":null,"values":[-0.15,-0.14,-0.13,-0.12,-0.11,-0.1,-0.09,-0.08,-0.07,-0.06,-0.05,-0.04,-0.03,-0.02,-0.01,0,0.01,0.02,0.03,0.04,0.05,0.06,0.07,0.08,0.09,0.1,0.11,0.12,0.13,0.14,0.15],"tickSize":{"condition":{"test":"abs(datum.value*10-round(datum.value*10))<0.01&&abs(datum.value)<0.12","value":8},"value":4},"labelPadding":4,"labelExpr":"abs(datum.value*10-round(datum.value*10))<0.01&&abs(datum.value)<0.12?(abs(datum.value)<0.01?'0':(datum.value<0?'-':'')+format(abs(datum.value),'.1f')):''"}}}},
 {"data":{"name":"c8"},"mark":{"type":"line","opacity":0},"encoding":{
  "x":{"field":"m","type":"quantitative","scale":{"domain":[0,1560],"nice":false,"zero":false},"axis":{"orient":"bottom","title":null,"values":[0,390,780,1170,1560],"ticks":false,"tickSize":0,"domain":false,"labelPadding":15,"labelOffset":4,"labelFontSize":17,"labelFlush":false,"labelExpr":"datum.value<100?'Jan 1880':datum.value<500?'Jan 1910':datum.value<900?'Jan 1940':datum.value<1300?'Jan 1970':'Jan 2000'"}},
  "y":{"field":"v","type":"quantitative","scale":{"domain":[-0.15,0.15],"nice":false},"axis":{"orient":"right","title":null,"values":[-0.15,-0.14,-0.13,-0.12,-0.11,-0.1,-0.09,-0.08,-0.07,-0.06,-0.05,-0.04,-0.03,-0.02,-0.01,0,0.01,0.02,0.03,0.04,0.05,0.06,0.07,0.08,0.09,0.1,0.11,0.12,0.13,0.14,0.15],"tickSize":{"condition":{"test":"abs(datum.value*10-round(datum.value*10))<0.01&&abs(datum.value)<0.12","value":8},"value":4},"labelPadding":3,"labelExpr":"abs(datum.value*10-round(datum.value*10))<0.01&&abs(datum.value)<0.12?(abs(datum.value)<0.01?'0':(datum.value<0?'-':'')+format(abs(datum.value),'.1f')):''"}}}},
 {"data":{"values":[{}]},"mark":{"type":"text","text":"C8"},"encoding":{"x":{"datum":795,"type":"quantitative","scale":{"domain":[0,1560],"nice":false,"zero":false},"axis":null},"y":{"datum":0.123,"type":"quantitative","scale":{"domain":[-0.15,0.15],"nice":false},"axis":null}}},
 {"data":{"values":[{}]},"mark":{"type":"text","text":"Years","fontSize":17},"encoding":{"x":{"datum":792,"type":"quantitative","scale":{"domain":[0,1560],"nice":false,"zero":false},"axis":null},"y":{"datum":-0.299,"type":"quantitative","scale":{"domain":[-0.15,0.15],"nice":false},"axis":null}}},
 {"data":{"values":[{}]},"mark":{"type":"text","text":"Huang 2009 EEMD A = 0.2, esb = 100","fontSize":17},"encoding":{"x":{"datum":1522,"type":"quantitative","scale":{"domain":[0,1560],"nice":false,"zero":false},"axis":null},"y":{"datum":-0.299,"type":"quantitative","scale":{"domain":[-0.15,0.15],"nice":false},"axis":null}}},
 {"data":{"values":[{}]},"mark":{"type":"text","text":"(a)"},"encoding":{"x":{"datum":824,"type":"quantitative","scale":{"domain":[0,1560],"nice":false,"zero":false},"axis":null},"y":{"datum":-0.378,"type":"quantitative","scale":{"domain":[-0.15,0.15],"nice":false},"axis":null}}},
 {"data":{"values":[{}]},"mark":{"type":"text","text":"Copyright © 2013 SciRes.","align":"left","fontSize":18.5},"encoding":{"x":{"datum":-452,"type":"quantitative","scale":{"domain":[0,1560],"nice":false,"zero":false},"axis":null},"y":{"datum":-0.553,"type":"quantitative","scale":{"domain":[-0.15,0.15],"nice":false},"axis":null}}},
 {"data":{"values":[{}]},"mark":{"type":"text","text":"IJG","align":"right","fontSize":18,"fontWeight":"bold","fontStyle":"italic"},"encoding":{"x":{"datum":2092,"type":"quantitative","scale":{"domain":[0,1560],"nice":false,"zero":false},"axis":null},"y":{"datum":-0.553,"type":"quantitative","scale":{"domain":[-0.15,0.15],"nice":false},"axis":null}}}
]}
]
}
